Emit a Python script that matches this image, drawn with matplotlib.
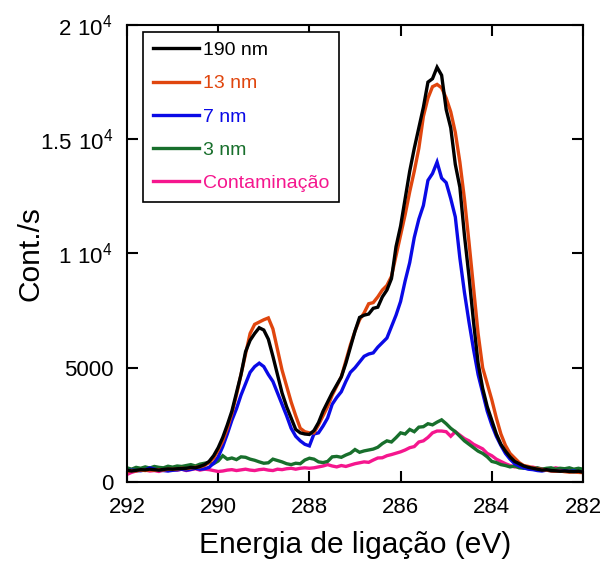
import matplotlib
matplotlib.use("Agg")
import matplotlib.pyplot as plt
from matplotlib.ticker import FixedLocator, FuncFormatter

plt.rcParams['font.family'] = ['Liberation Sans', 'DejaVu Sans']
plt.rcParams['mathtext.fontset'] = 'custom'
plt.rcParams['mathtext.rm'] = 'Liberation Sans'

# Binding energy grid, 292.0 -> 282.0 eV in 0.1 eV steps
energy = [round(292.0 - 0.1 * i, 1) for i in range(101)]

s190 = [520, 480, 510, 540, 530, 560, 540, 520, 550, 570,
        560, 580, 590, 600, 640, 620, 680, 760, 900, 1150,
        1500, 1950, 2500, 3100, 3900, 4700, 5700, 6200, 6500, 6750,
        6650, 6250, 5500, 4700, 3900, 3300, 2800, 2300, 2150, 2100,
        2080, 2250, 2600, 3100, 3500, 3900, 4250, 4600, 5200, 5900,
        6600, 7200, 7300, 7350, 7600, 7650, 8100, 8400, 8900, 10300,
        11200, 12400, 13600, 14600, 15500, 16400, 17500, 17650, 18150, 17800,
        16300, 15500, 13900, 12900, 10800, 9000, 7000, 5200, 4100, 3300,
        2700, 2100, 1650, 1350, 1100, 900, 800, 700, 640, 600,
        560, 520, 540, 500, 490, 470, 480, 460, 450, 470,
        430]

s13 = [450, 500, 480, 520, 500, 530, 510, 540, 520, 560,
       550, 570, 600, 580, 620, 640, 660, 720, 850, 1050,
       1400, 1800, 2350, 3000, 3800, 4700, 5600, 6500, 6900, 7000,
       7100, 7180, 6700, 5800, 4900, 4200, 3500, 2900, 2350, 2200,
       2150, 2150, 2500, 2900, 3300, 3800, 4200, 4600, 5300, 6000,
       6600, 7100, 7400, 7800, 7850, 8100, 8400, 8600, 9000, 9900,
       10800, 11700, 12700, 13600, 14600, 16000, 16800, 17300, 17400, 17250,
       16800, 16200, 15300, 14000, 12400, 10500, 8500, 6500, 5000, 4300,
       3600, 2800, 2100, 1600, 1250, 1050, 850, 720, 680, 620,
       580, 540, 520, 480, 470, 480, 450, 430, 440, 420,
       410]

s7 = [480, 520, 500, 490, 530, 620, 560, 520, 500, 480,
      510, 530, 560, 520, 550, 600, 560, 580, 640, 820,
      1100, 1550, 2100, 2700, 3200, 3800, 4300, 4800, 5050, 5200,
      5050, 4700, 4400, 3900, 3400, 2900, 2350, 2000, 1800, 1650,
      1580, 2100, 2150, 2450, 2800, 3400, 3700, 3950, 4400, 4800,
      5000, 5250, 5500, 5600, 5650, 5900, 6100, 6300, 6800, 7300,
      7900, 8800, 9600, 10700, 11500, 12100, 13200, 13500, 14000, 13300,
      13100, 12400, 11600, 9800, 8300, 7000, 5800, 4700, 3900, 3100,
      2500, 2000, 1600, 1250, 1000, 800, 700, 620, 560, 540,
      500, 480, 520, 490, 470, 500, 480, 460, 480, 440,
      420]

s3 = [620, 560, 640, 600, 660, 610, 680, 640, 620, 690,
      650, 700, 680, 720, 760, 700, 780, 820, 850, 800,
      920, 1150, 1000, 1050, 980, 1100, 1080, 1000, 950, 880,
      820, 840, 1000, 940, 880, 800, 760, 820, 800, 960,
      1040, 1000, 880, 850, 900, 1100, 1120, 1080, 1180, 1260,
      1420, 1300, 1360, 1400, 1440, 1520, 1680, 1800, 1750, 1940,
      2150, 2100, 2300, 2200, 2400, 2420, 2550, 2500, 2620, 2720,
      2550, 2350, 2200, 2000, 1800, 1650, 1500, 1350, 1250, 1100,
      900, 850, 760, 720, 660, 700, 620, 600, 640, 580,
      620, 560, 600, 620, 560, 600, 580, 620, 560, 600,
      560]

s_cont = [330, 420, 480, 560, 520, 480, 500, 460, 520, 500,
          540, 520, 560, 500, 540, 580, 520, 560, 540, 500,
          460, 480, 520, 540, 500, 530, 560, 520, 500, 540,
          560, 520, 500, 560, 540, 580, 600, 560, 600, 620,
          600, 620, 660, 700, 760, 700, 660, 720, 680, 740,
          800, 840, 880, 860, 960, 1050, 1060, 1150, 1200, 1260,
          1320, 1400, 1500, 1550, 1750, 1800, 1950, 2150, 2230, 2230,
          2200, 2000, 2200, 2050, 1900, 1800, 1650, 1550, 1450, 1250,
          1150, 1000, 900, 800, 720, 660, 680, 640, 620, 650,
          600, 580, 520, 560, 620, 580, 520, 540, 500, 460,
          440]

labels = ['190 nm', '13 nm', '7 nm', '3 nm', 'Contaminação']
colors = ['#000000', '#E0460E', '#0A0AE6', '#186F2C', '#F5168E']
series = [s190, s13, s7, s3, s_cont]

x_ticks = [292, 290, 288, 286, 284, 282]
y_ticks = [0, 5000, 10000, 15000, 20000]
y_tick_labels = ['0', '5000', r'$\mathregular{1\ 10^{4}}$',
                 r'$\mathregular{1.5\ 10^{4}}$', r'$\mathregular{2\ 10^{4}}$']

fig = plt.figure(figsize=(6.03, 5.63), dpi=100)
ax = fig.add_axes([0.2106, 0.1439, 0.7562, 0.8117])

# Draw in reverse so the thickest film ends up on top
for vals, lab, col in reversed(list(zip(series, labels, colors))):
    ax.plot(energy, vals, color=col, lw=2.4, label=lab, solid_joinstyle='miter')

ax.set_xlim(292, 282)
ax.set_ylim(0, 20000)
ax.xaxis.set_major_locator(FixedLocator(x_ticks))
ax.yaxis.set_major_locator(FixedLocator(y_ticks))
ax.yaxis.set_major_formatter(FuncFormatter(lambda v, p: y_tick_labels[y_ticks.index(int(round(v)))]))
ax.tick_params(direction='in', length=8, width=1.5, top=True, right=True,
               labelsize=16)
ax.tick_params(axis='x', pad=11)
ax.tick_params(axis='y', pad=10)
for sp in ax.spines.values():
    sp.set_linewidth(1.5)

ax.set_xlabel('Energia de ligação (eV)', fontsize=21.5)
ax.xaxis.set_label_coords(0.5, -0.108)
ax.set_ylabel('Cont./s', fontsize=21.5)
ax.yaxis.set_label_coords(-0.18, 0.5)

handles, labs = ax.get_legend_handles_labels()
handles, labs = handles[::-1], labs[::-1]
leg = ax.legend(handles, labs, loc='upper left', bbox_to_anchor=(0.035, 0.985),
                borderaxespad=0, fontsize=14, handlelength=2.4, handletextpad=0.2,
                labelspacing=0.8, fancybox=False, framealpha=1, borderpad=0.5)
leg.get_frame().set_edgecolor('black')
leg.get_frame().set_linewidth(1.2)
for txt, col in zip(leg.get_texts(), colors):
    txt.set_color(col)

fig.savefig('out.png', dpi=100)
